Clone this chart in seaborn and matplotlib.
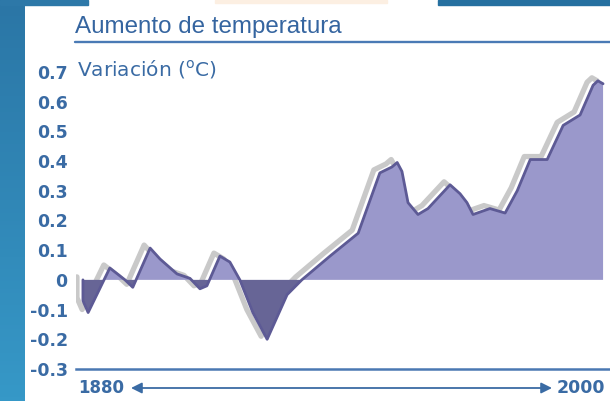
# Aumento de temperatura - area con sombra
import numpy as np
import pandas as pd
import seaborn as sns
import matplotlib.pyplot as plt
from matplotlib import transforms
from matplotlib.patches import Rectangle
from matplotlib.lines import Line2D
from matplotlib.colors import LinearSegmentedColormap

# datos
anios = [1880, 1880, 1881.2, 1886.2, 1889.7, 1891.5, 1895.5, 1897.8, 1901.7,
         1904.7, 1907.0, 1908.6, 1911.6, 1913.9, 1916.2, 1919.2, 1922.5,
         1927.1, 1930.5, 1937.0, 1943.5, 1948.5, 1951.3, 1952.5, 1953.6,
         1955.0, 1957.3, 1959.6, 1964.7, 1967.0, 1968.6, 1970.0, 1973.9,
         1977.4, 1980.2, 1983.2, 1987.1, 1990.8, 1994.7, 1997.7, 1998.8, 2000]
variacion = [0.0, -0.07, -0.11, 0.04, 0.0, -0.025, 0.107, 0.07, 0.02,
             0.005, -0.03, -0.02, 0.08, 0.06, 0.0, -0.11, -0.2,
             -0.05, 0.0, 0.08, 0.157, 0.36, 0.38, 0.395, 0.365,
             0.26, 0.22, 0.24, 0.32, 0.29, 0.26, 0.22, 0.24,
             0.225, 0.30, 0.405, 0.405, 0.52, 0.555, 0.655, 0.67, 0.66]
ticks_y = [-0.3, -0.2, -0.1, 0, 0.1, 0.2, 0.3, 0.4, 0.5, 0.6, 0.7]
etiquetas_y = ['-0.3', '-0.2', '-0.1', '0', '0.1', '0.2', '0.3', '0.4', '0.5', '0.6', '0.7']

df = pd.DataFrame({'anio': anios, 'variacion': variacion})

sns.set_theme(style='white')
plt.rcParams['font.family'] = ['DejaVu Sans']

azul_texto = '#3a6ba4'
W, H = 610, 401
fig = plt.figure(figsize=(W / 100, H / 100), dpi=100)
fig.patch.set_facecolor('white')

# franja azul de fondo
bg = fig.add_axes([0, 0, 25 / W, 1])
grad = np.linspace(0, 1, 100).reshape(-1, 1)
bg.imshow(grad, aspect='auto', cmap=LinearSegmentedColormap.from_list('b', ['#2b76a6', '#3698c7']))
bg.axis('off')
fig.patches.append(Rectangle((0, 1 - 5 / H), 88 / W, 5 / H, transform=fig.transFigure,
                             color='#2d78a8', zorder=0))
fig.patches.append(Rectangle((438 / W, 1 - 5 / H), 172 / W, 5 / H, transform=fig.transFigure,
                             color='#2670a0', zorder=0))
fig.patches.append(Rectangle((215 / W, 1 - 3 / H), 172 / W, 3 / H, transform=fig.transFigure,
                             color='#fcefe2', zorder=0))

ax = fig.add_axes([76 / W, 1 - 369 / H, (W - 76) / W, 309 / H])
ax.set_facecolor('none')

# sombra gris desplazada
sombra = ax.transData + transforms.ScaledTranslation(-6 / 100, 3 / 100, fig.dpi_scale_trans)
sns.lineplot(data=df, x='anio', y='variacion', ax=ax, color='#c9c9c9', lw=3.8,
             estimator=None, sort=False, transform=sombra, zorder=1)

v = np.array(variacion)
ax.fill_between(anios, 0, v, where=v >= 0, interpolate=True, color='#9a98cb', lw=0, zorder=2)
ax.fill_between(anios, 0, v, where=v <= 0, interpolate=True, color='#676596', lw=0, zorder=2)
sns.lineplot(data=df, x='anio', y='variacion', ax=ax, color='#5d5a95', lw=2,
             estimator=None, sort=False, zorder=3)

ax.set_xlim(1878.4, 2001.6)
ax.set_ylim(-0.3, 0.74)
ax.set_xticks([])
ax.set_yticks(ticks_y)
ax.set_yticklabels(etiquetas_y, fontweight='bold', fontsize=12.5, color=azul_texto)
ax.tick_params(axis='y', length=0, pad=6)
ax.set_xlabel('')
ax.set_ylabel('')
for s in ['top', 'right', 'left']:
    ax.spines[s].set_visible(False)
ax.spines['bottom'].set_color('#4a78b2')
ax.spines['bottom'].set_linewidth(1.8)

# titulo y textos
fig.text(75 / W, 1 - 33 / H, 'Aumento de temperatura', fontsize=17.4, family='Liberation Sans',
         color='#3565a0', va='baseline')
fig.add_artist(Line2D([75 / W, 1], [1 - 41.5 / H] * 2, lw=1.7, color='#4a7ab5'))
fig.text(77 / W, 1 - 76 / H, r'Variación ($^{\mathregular{o}}$C)', fontsize=14.5,
         color=azul_texto, va='baseline')

fig.text(78 / W, 1 - 388 / H, '1880', fontsize=12, fontweight='bold', color=azul_texto, va='center')
fig.text(605 / W, 1 - 388 / H, '2000', fontsize=12.5, fontweight='bold', color=azul_texto,
         va='center', ha='right')
ax.annotate('', xy=(552 / W, 1 - 388 / H), xytext=(131 / W, 1 - 388 / H),
            xycoords='figure fraction', textcoords='figure fraction', annotation_clip=False,
            arrowprops=dict(arrowstyle='<|-|>', color=azul_texto, lw=1.3, mutation_scale=16,
                            shrinkA=0, shrinkB=0))

fig.savefig('out.png', dpi=100)
